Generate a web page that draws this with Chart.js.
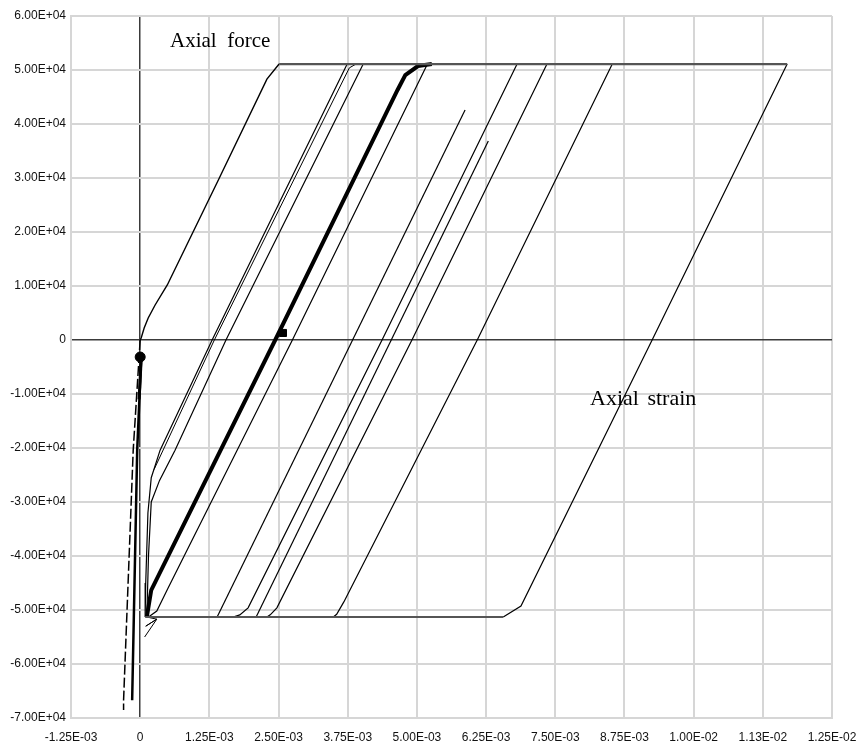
<!DOCTYPE html>
<html>
<head>
<meta charset="utf-8">
<script src="https://cdn.jsdelivr.net/npm/chart.js@4.4.1/dist/chart.umd.min.js"></script>
<style>
  body { margin: 0; background: #fff; }
  #wrap { position: relative; width: 859px; height: 749px; }
  .lbl { position: absolute; font-family: "Liberation Serif", "Times New Roman", serif; color: #000; white-space: pre; }
</style>
</head>
<body>
<div id="wrap">
  <canvas id="axialChart"></canvas>
  <div class="lbl" style="left:170px; top:28px; font-size:21px;">Axial  force</div>
  <div class="lbl" style="left:590px; top:385px; font-size:22px; word-spacing:3px;">Axial strain</div>
</div>
<script>
// 目盛りラベル
const strainTicks = ['-1.25E-03', '0', '1.25E-03', '2.50E-03', '3.75E-03', '5.00E-03', '6.25E-03', '7.50E-03', '8.75E-03', '1.00E-02', '1.13E-02', '1.25E-02'];
const forceTicks = ['-7.00E+04', '-6.00E+04', '-5.00E+04', '-4.00E+04', '-3.00E+04', '-2.00E+04', '-1.00E+04', '0', '1.00E+04', '2.00E+04', '3.00E+04', '4.00E+04', '5.00E+04', '6.00E+04'];

// [ひずみ, 軸力] 図から読み取った値
const initialLoading = [[0, 0], [0.018e-3, 370], [0.072e-3, 2220], [0.145e-3, 4070], [0.27e-3, 6480], [0.49e-3, 10190], [1.43e-3, 30000], [2.29e-3, 48300], [2.51e-3, 51100]];
const topPlateau = [[2.51e-3, 51100], [11.69e-3, 51100]];
const bottomPlateau = [[0.09e-3, -51300], [6.56e-3, -51300]];

const unload1 = [[3.74e-3, 51100], [1.30e-3, 0], [0.36e-3, -20400], [0.2e-3, -25500], [0.14e-3, -32000], [0.1e-3, -45000], [0.09e-3, -51300]];
const reloadShoulder = [[0.25e-3, -24000], [1.34e-3, 0], [3.67e-3, 48150], [3.78e-3, 50400], [3.9e-3, 51100]];
const unload2 = [[4.03e-3, 51100], [1.55e-3, 0], [0.63e-3, -20400], [0.35e-3, -26000], [0.2e-3, -30000], [0.15e-3, -40000], [0.12e-3, -51300]];
const bundle = [[0.12e-3, -51300], [0.2e-3, -46300], [2.44e-3, 0], [4.65e-3, 46300], [4.79e-3, 49070], [5.02e-3, 50740], [5.27e-3, 51100]];
const unload3 = [[5.19e-3, 51100], [2.75e-3, 0], [0.5e-3, -46000], [0.3e-3, -50200], [0.15e-3, -51300]];
const reload1 = [[1.39e-3, -51300], [5.87e-3, 42600]];
const unload4 = [[6.81e-3, 51100], [4.37e-3, 0], [1.95e-3, -49600], [1.80e-3, -50900], [1.68e-3, -51300]];
const reload2 = [[2.095e-3, -51300], [6.29e-3, 36850]];
const unload5 = [[7.35e-3, 51100], [4.91e-3, 0], [2.47e-3, -49600], [2.35e-3, -50900], [2.29e-3, -51300]];
const unload6 = [[8.53e-3, 51100], [6.09e-3, 0], [3.68e-3, -48500], [3.55e-3, -50800], [3.49e-3, -51300]];
const unload7 = [[11.69e-3, 51100], [9.25e-3, 0], [6.88e-3, -49260], [6.56e-3, -51300]];

const comp1 = [[0, 0], [-0.126e-3, -20400], [-0.3e-3, -66700], [-0.3e-3, -68500]];
const comp2 = [[0.02e-3, -3000], [-0.054e-3, -20400], [-0.145e-3, -66700]];
const comp3 = [[0.02e-3, -3150], [-0.02e-3, -11000]];
const smallLoops = [[0.12e-3, -51300], [0.3e-3, -51700], [0.1e-3, -53000], [0.3e-3, -51700], [0.08e-3, -55000]];

const startPoint = [[0, -3150]];
const endPoint = [[2.58e-3, 1300]];

function toXY(arr) {
  return arr.map(p => ({ x: p[0], y: p[1] }));
}

function curve(arr, width, color, dash) {
  return {
    data: toXY(arr),
    showLine: true,
    borderColor: color || '#000',
    borderWidth: width || 1.2,
    borderDash: dash || [],
    pointRadius: 0,
    fill: false,
    tension: 0,
  };
}

const datasets = [
  curve(topPlateau, 2.2, '#555'),
  curve(bottomPlateau, 2.2, '#555'),
  curve(initialLoading, 1.4),
  curve(unload1),
  curve(reloadShoulder, 1),
  curve(unload2),
  curve(bundle, 4),
  curve(unload3),
  curve(reload1),
  curve(unload4),
  curve(reload2),
  curve(unload5),
  curve(unload6),
  curve(unload7),
  curve(comp1, 1.5, '#000', [10, 3]),
  curve(comp2, 2.5),
  curve(comp3, 3),
  curve(smallLoops, 1),
  { data: toXY(startPoint), pointStyle: 'circle', pointRadius: 5, backgroundColor: '#000', borderColor: '#000', showLine: false },
  { data: toXY(endPoint), pointStyle: 'rect', pointRadius: 5, backgroundColor: '#000', borderColor: '#000', showLine: false },
];

const gridColor = '#d6d6d6';
const axisColor = '#3a3a3a';
const isZero = v => Math.abs(v) < 1e-9;

new Chart(document.getElementById('axialChart'), {
  type: 'scatter',
  data: { datasets: datasets },
  options: {
    responsive: true,
    maintainAspectRatio: false,
    animation: false,
    layout: { padding: { top: 16, right: 27, left: 0, bottom: 0 } },
    plugins: { legend: { display: false }, tooltip: { enabled: false } },
    scales: {
      x: {
        type: 'linear',
        min: -1.25e-3,
        max: 12.5e-3,
        afterFit: function (scale) {
          scale.height = 31;
          scale.paddingLeft = 0;
          scale.paddingRight = 0;
        },
        border: { display: true, color: gridColor, width: 2 },
        grid: {
          drawTicks: false,
          color: c => (c.tick && isZero(c.tick.value)) ? axisColor : gridColor,
          lineWidth: c => (c.tick && isZero(c.tick.value)) ? 1.5 : 2,
        },
        ticks: {
          stepSize: 1.25e-3,
          autoSkip: false,
          maxRotation: 0,
          padding: 12,
          color: '#111',
          font: { family: 'Arial, "Liberation Sans", sans-serif', size: 12 },
          callback: function (value, index) { return strainTicks[index]; }
        }
      },
      y: {
        type: 'linear',
        min: -70000,
        max: 60000,
        afterFit: function (scale) { scale.width = 71; },
        border: { display: true, color: gridColor, width: 2 },
        grid: {
          drawTicks: false,
          color: c => (c.tick && isZero(c.tick.value)) ? axisColor : gridColor,
          lineWidth: c => (c.tick && isZero(c.tick.value)) ? 1.5 : 2,
        },
        ticks: {
          stepSize: 10000,
          autoSkip: false,
          padding: 5,
          color: '#111',
          font: { family: 'Arial, "Liberation Sans", sans-serif', size: 12 },
          callback: function (value, index) { return forceTicks[index]; }
        }
      }
    }
  }
});
</script>
</body>
</html>
